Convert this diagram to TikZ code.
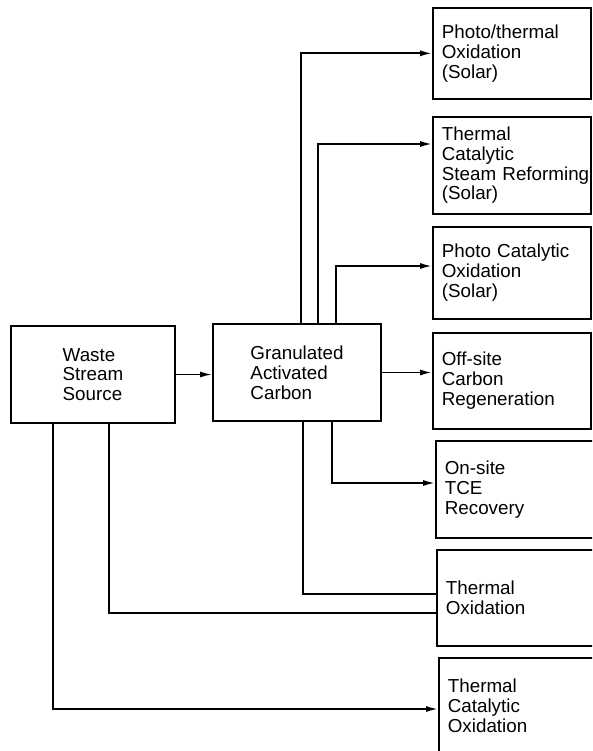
\documentclass[tikz,border=0pt]{standalone}
\usepackage{fontspec}
\setmainfont{Liberation Sans}
\usetikzlibrary{calc}
\usetikzlibrary{arrows.meta}

\begin{document}
\begin{tikzpicture}[
		x=1pt, y=-1pt,
		line width=1.7pt,
		every node/.style={draw,rectangle,font=\fontsize{18.8}{19.8}\selectfont,align=left},
		srcbox/.style={minimum width=164pt,minimum height=97pt},
		outbox/.style={anchor=north west,text width=140pt,inner xsep=9pt,minimum height=#1},
		arr/.style={-{Latex[length=12pt,width=6pt]}}
		]
		\useasboundingbox (0,0) rectangle (592,751);
		\clip (0,0) rectangle (592,751);
		\node[srcbox] (waste) at (93,374.5) {Waste\\Stream\\Source};
		\node[srcbox,minimum width=168pt] (gac) at (297,372.5) {Granulated\\Activated\\Carbon};
		\node[outbox=91pt] (photo) at (432,7) {Photo/thermal\\Oxidation\\(Solar)};
		\node[outbox=97pt] (steam) at (432,116) {Thermal\\Catalytic\\\mbox{Steam Reforming}\\(Solar)};
		\node[outbox=92pt] (catal) at (432,226) {Photo Catalytic\\Oxidation\\(Solar)};
		\node[outbox=96pt] (offsite) at (432,332) {Off-site\\Carbon\\Regeneration};
		\node[outbox=97pt] (onsite) at (435,440) {On-site\\TCE\\Recovery};
		\node[outbox=96pt] (thox) at (436,549) {Thermal\\Oxidation};
		\node[outbox=96pt] (tcox) at (438,657) {Thermal\\Catalytic\\Oxidation};

		\draw[arr] (waste.east) -- (waste.east -| gac.west);
		\draw[arr] (gac.east) -- (gac.east -| offsite.west);
		\draw[arr] ([xshift=89pt]gac.north west) |- (photo.west);
		\draw[arr] ([xshift=106pt]gac.north west) |- ([yshift=-28pt]steam.north west);
		\draw[arr] ([xshift=124pt]gac.north west) |- ([yshift=-40pt]catal.north west);
		\draw[arr] ([xshift=120pt]gac.south west) |- ([yshift=-43pt]onsite.north west);
		\draw ([xshift=91pt]gac.south west) |- ([yshift=-45pt]thox.north west);
		\draw ([xshift=99pt]waste.south west) |- ([yshift=-64pt]thox.north west);
		\draw[arr] ([xshift=43pt]waste.south west) |- ([yshift=-52pt]tcox.north west);
	\end{tikzpicture}
\end{document}
